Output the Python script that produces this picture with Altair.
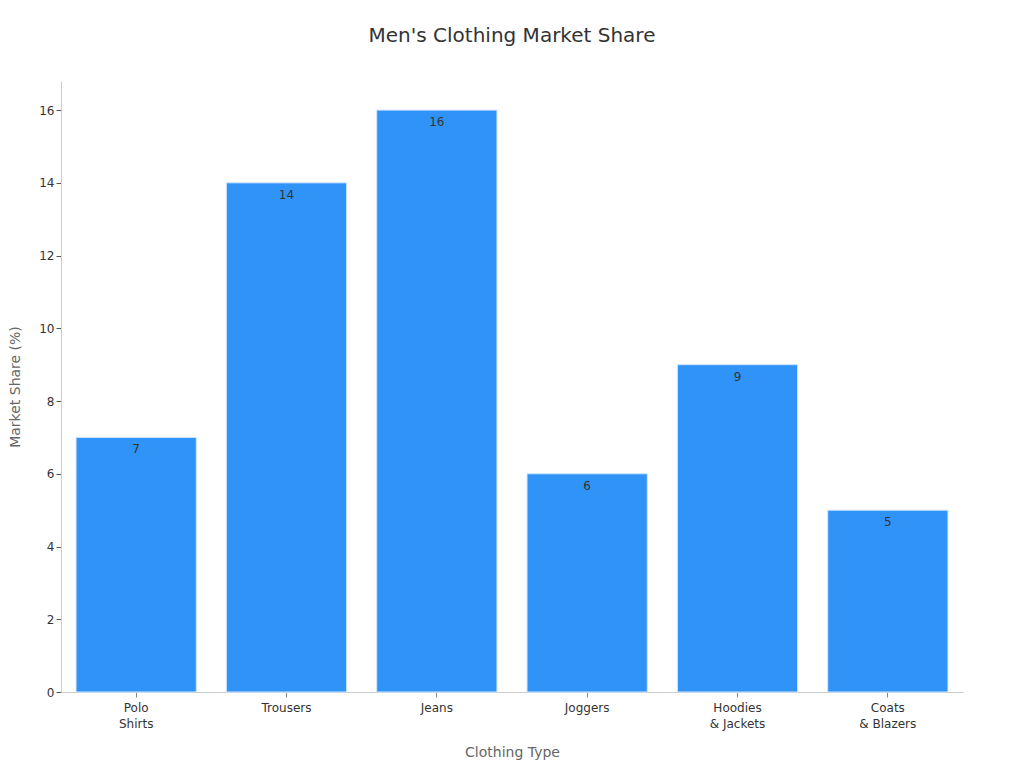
import altair as alt
import pandas as pd

categories = ["Polo\nShirts", "Trousers", "Jeans", "Joggers", "Hoodies\n& Jackets", "Coats\n& Blazers"]
shares = [7, 14, 16, 6, 9, 5]

df = pd.DataFrame({"type": categories, "share": shares})

FONT = "DejaVu Sans"

base = alt.Chart(df).encode(
    x=alt.X("type:N", sort=None, title="Clothing Type",
            scale=alt.Scale(paddingInner=0.2, paddingOuter=0.1),
            axis=alt.Axis(labelAngle=0, labelExpr="split(datum.label, '\\n')",
                          labelFontSize=12, labelColor="#333333", labelFont=FONT, labelLineHeight=16,
                          titleFontSize=14, titleColor="#666666", titleFont=FONT, titleFontWeight="normal",
                          titlePadding=16,
                          domainColor="#cccccc", tickColor="#888888", tickSize=5, labelPadding=5)),
    y=alt.Y("share:Q", title="Market Share (%)",
            scale=alt.Scale(domain=[0, 16.8], nice=False),
            axis=alt.Axis(values=[0, 2, 4, 6, 8, 10, 12, 14, 16], grid=False,
                          labelFontSize=12, labelColor="#333333", labelFont=FONT,
                          titleFontSize=14, titleColor="#666666", titleFont=FONT, titleFontWeight="normal",
                          titlePadding=16,
                          domainColor="#cccccc", tickColor="#555555", tickSize=5)),
)

bars = base.mark_bar(color="#2f93f8", stroke="#cfe6fd", strokeWidth=1)
labels = base.mark_text(dy=12, fontSize=12, color="#333333", font=FONT).encode(text="share:Q")

chart = (bars + labels).properties(
    width=902, height=611,
    padding={"top": 18, "left": 0, "right": 5, "bottom": 5},
    background="white",
    title=alt.TitleParams("Men's Clothing Market Share", fontSize=20, color="#333333",
                          font=FONT, fontWeight="normal", offset=35, anchor="middle"),
).configure_view(strokeWidth=0, stroke="transparent")

chart.save("out.html", embed_options={"renderer": "svg", "actions": False})
